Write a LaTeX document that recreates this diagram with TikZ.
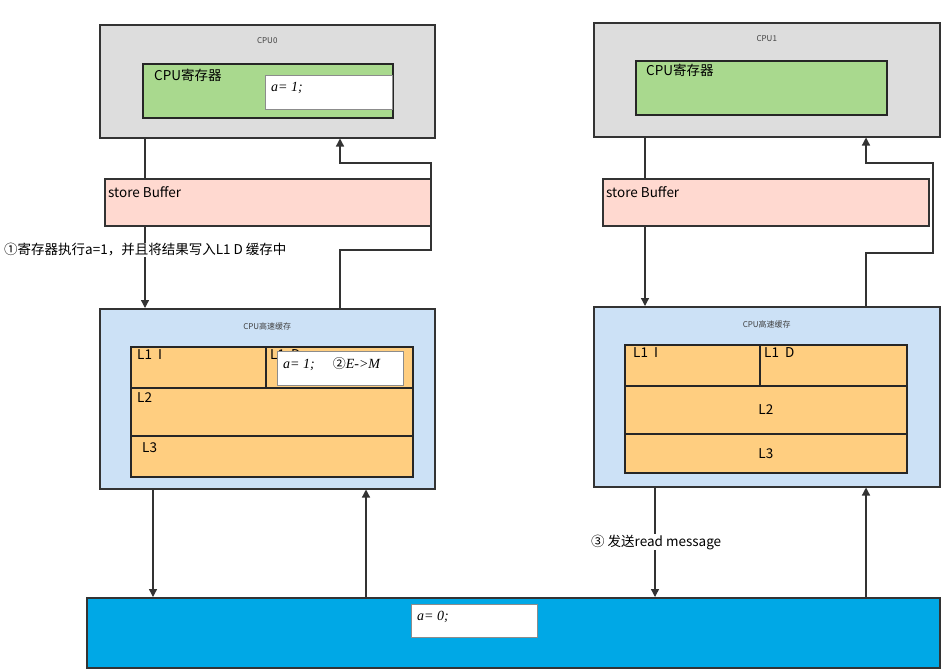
\documentclass[tikz,border=0pt]{standalone}
\usepackage{fontspec}
\setmainfont{Noto Sans CJK SC}
\newfontfamily\codefont{Liberation Serif}
\usepackage{xcolor}
\definecolor{cpugray}{HTML}{DDDDDD}
\definecolor{reggreen}{HTML}{A9D98E}
\definecolor{bufpink}{HTML}{FFD9D0}
\definecolor{cacheblue}{HTML}{CCE1F6}
\definecolor{levelorange}{HTML}{FFCE80}
\definecolor{membus}{HTML}{00A8E6}
\definecolor{edge}{HTML}{333333}
\usetikzlibrary{arrows.meta, positioning}

\begin{document}
\begin{tikzpicture}[
    x=1pt, y=-1pt,
    box/.style={draw=edge, line width=1.5pt, anchor=north west, inner sep=0pt},
    inner/.style={box, line width=1.7pt, draw=black!85},
    value/.style={draw=black!45, line width=0.8pt, fill=white, anchor=north west, inner sep=0pt},
    small/.style={font=\fontsize{8}{9}\selectfont, text=black!75},
    label/.style={font=\fontsize{13.5}{15}\selectfont, anchor=west, inner sep=1pt},
    code/.style={font=\fontsize{14}{16}\codefont\itshape, anchor=west, inner sep=0pt},
    link/.style={draw=edge, line width=1.3pt},
    flow/.style={link, -{Triangle[length=8pt, width=8pt]}}
]
    \useasboundingbox (0,0) rectangle (941,670);

    % CPU0
    \node[box, fill=cpugray, minimum width=335, minimum height=113] (cpu0) at (99,24) {};
    \node[small, below=10pt of cpu0.north] {CPU0};
    \node[inner, fill=reggreen, minimum width=250, minimum height=54] (reg0) at (142,63) {};
    \node[label] at (153,75) {CPU寄存器};
    \node[value, minimum width=127, minimum height=34] (val0) at (265,75) {};
    \node[code] at (271,88) {a= 1;};

    % CPU1
    \node[box, fill=cpugray, minimum width=346, minimum height=114] (cpu1) at (593,22) {};
    \node[small, below=10pt of cpu1.north] {CPU1};
    \node[inner, fill=reggreen, minimum width=251, minimum height=54] (reg1) at (635,60) {};
    \node[label] at (645,70) {CPU寄存器};

    % store buffers
    \node[box, fill=bufpink, minimum width=326, minimum height=47] (sb0) at (104,178) {};
    \node[label] at (107,192) {store Buffer};
    \node[box, fill=bufpink, minimum width=326, minimum height=47] (sb1) at (602,178) {};
    \node[label] at (605,192) {store Buffer};

    % CPU0 cache
    \node[box, fill=cacheblue, minimum width=335, minimum height=180] (cache0) at (99,308) {};
    \node[small, below=11pt of cache0.north] {CPU高速缓存};
    \node[inner, fill=levelorange, minimum width=135, minimum height=41] (l1i0) at (130,346) {};
    \node[inner, fill=levelorange, minimum width=147, minimum height=41] (l1d0) at (265,346) {};
    \node[inner, fill=levelorange, minimum width=282, minimum height=48] (l20) at (130,387) {};
    \node[inner, fill=levelorange, minimum width=282, minimum height=41] (l30) at (130,435) {};
    \node[label] at (136,355) {L1\ \ I};
    \node[label] at (269,355) {L1\ \ D};
    \node[label] at (136,398) {L2};
    \node[label] at (141,448) {L3};
    \node[value, minimum width=126, minimum height=34] (val1) at (277,351) {};
    \node[code] at (283,364) {a= 1;\hspace{18pt}{\fontsize{13}{15}\selectfont\normalfont ②}E->M};

    % CPU1 cache
    \node[box, fill=cacheblue, minimum width=346, minimum height=180] (cache1) at (593,306) {};
    \node[small, below=11pt of cache1.north] {CPU高速缓存};
    \node[inner, fill=levelorange, minimum width=135, minimum height=41] (l1i1) at (624,344) {};
    \node[inner, fill=levelorange, minimum width=147, minimum height=41] (l1d1) at (759,344) {};
    \node[inner, fill=levelorange, minimum width=282, minimum height=48] (l21) at (624,385) {};
    \node[inner, fill=levelorange, minimum width=282, minimum height=39] (l31) at (624,433) {};
    \node[label] at (632,353) {L1\ \ I};
    \node[label] at (763,353) {L1\ \ D};
    \node[label, anchor=center] at (l21.center) {L2};
    \node[label, anchor=center] at (l31.center) {L3};

    % main memory
    \node[box, fill=membus, minimum width=853, minimum height=70] (mem) at (86,597) {};
    \node[value, minimum width=126, minimum height=33] (val2) at (411,604) {};
    \node[code] at (417,617) {a= 0;};

    % connector columns
    \coordinate (c0) at (145,0);
    \coordinate (c1) at (340,0);
    \coordinate (c2) at (153,0);
    \coordinate (c3) at (366,0);
    \coordinate (c4) at (645,0);
    \coordinate (c5) at (866,0);
    \coordinate (c6) at (655,0);

    % CPU0 <-> cache
    \draw[link] (cpu0.south -| c0) -- (sb0.north -| c0);
    \draw[flow] (sb0.south -| c0) -- (cache0.north -| c0);
    \draw[flow] (cache0.north -| c1) -- ++(0,-58) -- ++(91,0) -- ++(0,-87) -- ++(-91,0) -- (cpu0.south -| c1);

    % CPU1 <-> cache
    \draw[link] (cpu1.south -| c4) -- (sb1.north -| c4);
    \draw[flow] (sb1.south -| c4) -- (cache1.north -| c4);
    \draw[flow] (cache1.north -| c5) -- ++(0,-53) -- ++(67,0) -- ++(0,-90) -- ++(-67,0) -- (cpu1.south -| c5);

    % caches <-> memory
    \draw[flow] (cache0.south -| c2) -- (mem.north -| c2);
    \draw[flow] (mem.north -| c3) -- (cache0.south -| c3);
    \draw[flow] (cache1.south -| c6) -- (mem.north -| c6);
    \draw[flow] (mem.north -| c5) -- (cache1.south -| c5);

    % step notes
    \node[label, fill=white] (step1) at (3,250) {①寄存器执行a=1，并且将结果写入L1 D 缓存中};
    \node[label, fill=white] (step3) at (590,542) {③ 发送read message};
\end{tikzpicture}
\end{document}
